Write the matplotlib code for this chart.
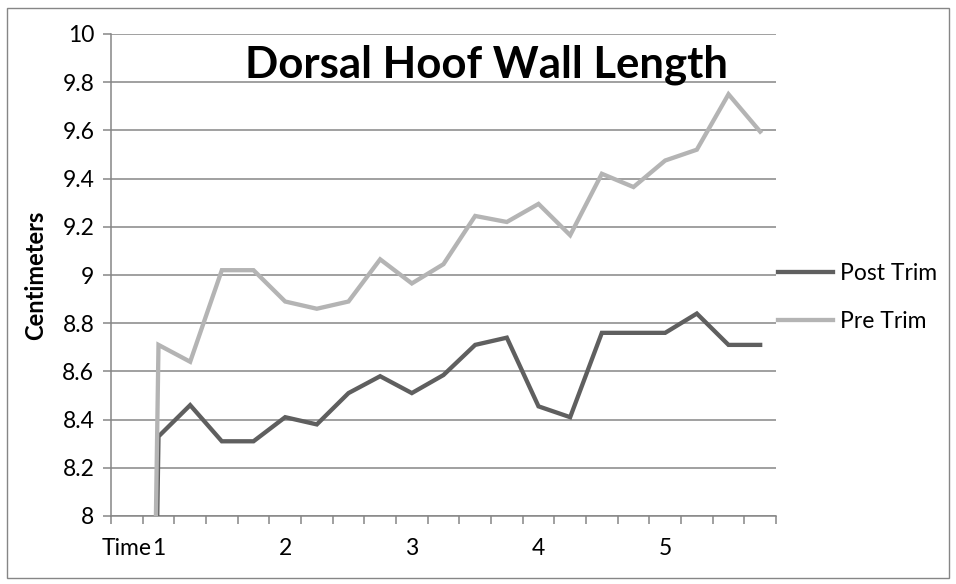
import numpy as np
import matplotlib
matplotlib.use("Agg")
import matplotlib.pyplot as plt
from matplotlib.patches import Rectangle

plt.rcParams['font.family'] = ['Lato', 'DejaVu Sans']

# categories: first one is the "Time" header row (value 0, clipped below the axis)
categories = ["Time", "1", "", "", "", "2", "", "", "", "3", "", "", "",
              "4", "", "", "", "5", "", "", ""]
post_trim = [0, 8.33, 8.46, 8.31, 8.31, 8.41, 8.38, 8.51, 8.58, 8.51, 8.585,
             8.71, 8.74, 8.455, 8.41, 8.76, 8.76, 8.76, 8.84, 8.71, 8.71]
pre_trim = [0, 8.71, 8.64, 9.02, 9.02, 8.89, 8.86, 8.89, 9.065, 8.965, 9.045,
            9.245, 9.22, 9.295, 9.165, 9.42, 9.365, 9.475, 9.52, 9.75, 9.595]
y_ticks = [8, 8.2, 8.4, 8.6, 8.8, 9, 9.2, 9.4, 9.6, 9.8, 10]
y_labels = ["8", "8.2", "8.4", "8.6", "8.8", "9", "9.2", "9.4", "9.6", "9.8", "10"]

fig = plt.figure(figsize=(9.56, 5.84), dpi=100)
ax = fig.add_axes([111/956, 1 - 516/584, (776 - 111)/956, (516 - 34)/584])

x = np.arange(len(categories))
grid_c = "#868686"

ax.plot(x, post_trim, color="#5f5f5f", lw=3.1, solid_joinstyle="miter", label="Post Trim", zorder=3)
ax.plot(x, pre_trim, color="#b4b4b4", lw=3.1, solid_joinstyle="miter", label="Pre Trim", zorder=3)

ax.set_xlim(-0.5, len(categories) - 0.5)
ax.set_ylim(8, 10)
ax.set_yticks(y_ticks)
ax.set_yticklabels(y_labels, fontsize=16.5)
ax.yaxis.grid(True, color=grid_c, lw=1.1)
ax.set_axisbelow(True)

# category ticks sit between categories, labels at category centres
ax.set_xticks(np.arange(len(categories) + 1) - 0.5)
ax.set_xticklabels([])
ax.set_xticks(x, minor=True)
ax.set_xticklabels(categories, minor=True, fontsize=16.5)
ax.tick_params(axis="x", which="minor", length=0, pad=16)
ax.tick_params(axis="x", which="major", length=6, color=grid_c, width=1.1)
ax.tick_params(axis="y", length=6, color=grid_c, width=1.1, pad=6)

for s in ["top", "right"]:
    ax.spines[s].set_visible(False)
for s in ["left", "bottom"]:
    ax.spines[s].set_color(grid_c)
    ax.spines[s].set_linewidth(1.1)

ax.set_ylabel("Centimeters", fontsize=17, fontweight="bold", labelpad=11)

ax.text(0.564, 0.91, "Dorsal Hoof Wall Length", transform=ax.transAxes,
        ha="center", va="baseline", fontsize=31.5, fontweight="bold")

leg = ax.legend(loc="center left", frameon=False,
                fontsize=16.5, handlelength=2.4, handletextpad=0.3, labelspacing=1.15,
                borderaxespad=0.0, borderpad=0.0)
leg.set_bbox_to_anchor((1.003, 0.453), transform=ax.transAxes)

fig.patches.append(Rectangle((7/956, 6/584), 942/956, 570/584, transform=fig.transFigure,
                             fill=False, edgecolor="#868686", lw=1.0))

fig.savefig("out.png", dpi=100)
